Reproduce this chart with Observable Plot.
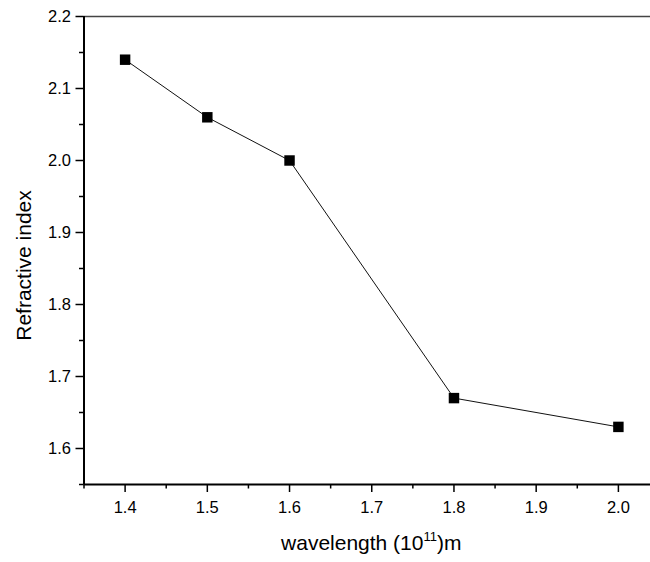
<!DOCTYPE html>
<html>
<head>
<meta charset="utf-8">
<script src="https://cdn.jsdelivr.net/npm/d3@7"></script>
<script src="https://cdn.jsdelivr.net/npm/@observablehq/plot@0.6"></script>
<style>
  html, body { margin: 0; padding: 0; background: #fff; }
  #chart svg { display: block; }
</style>
</head>
<body>
<div id="chart"></div>
<script>
// Refractive index measured at each wavelength
const wavelength = [1.4, 1.5, 1.6, 1.8, 2.0];
const refractiveIndex = [2.14, 2.06, 2.00, 1.67, 1.63];

// Axis ticks
const xMajorTicks = [1.4, 1.5, 1.6, 1.7, 1.8, 1.9, 2.0];
const xMinorTicks = [1.35, 1.45, 1.55, 1.65, 1.75, 1.85, 1.95, 2.05];
const yMajorTicks = [1.6, 1.7, 1.8, 1.9, 2.0, 2.1, 2.2];
const yMinorTicks = [1.55, 1.65, 1.75, 1.85, 1.95, 2.05, 2.15];

// Axis titles (the x title carries a superscript exponent)
const xTitleParts = ["wavelength (10", "11", ")m"];
const yTitle = "Refractive index";

const points = wavelength.map((w, i) => ({w, n: refractiveIndex[i]}));

const font = "'Liberation Sans', Arial, Helvetica, sans-serif";

const chart = Plot.plot({
  width: 650,
  height: 562,
  marginTop: 16,
  marginBottom: 78,
  marginLeft: 83.5,
  marginRight: 0,
  style: {fontFamily: font, fontSize: "16.5px", color: "#000", background: "#fff", overflow: "hidden"},
  x: {domain: [1.35, 2.05], range: [83.5, 659]},
  y: {domain: [1.55, 2.2], range: [484, 16]},
  marks: [
    // minor ticks
    Plot.axisX({ticks: xMinorTicks, tickSize: 4.5, tickFormat: () => "", label: null, strokeWidth: 1.5}),
    Plot.axisY({ticks: yMinorTicks, tickSize: 4.5, tickFormat: () => "", label: null, strokeWidth: 1.5}),
    // major ticks with labels
    Plot.axisX({ticks: xMajorTicks, tickSize: 8, tickPadding: 9, tickFormat: d3.format(".1f"), label: null, strokeWidth: 1.5, fontSize: 16.5}),
    Plot.axisY({ticks: yMajorTicks, tickSize: 8, tickPadding: 5, tickFormat: d3.format(".1f"), label: null, strokeWidth: 1.5, fontSize: 16.5}),
    // frame: bold left and bottom axes, thin top border
    Plot.ruleY([2.2], {stroke: "#444", strokeWidth: 1.5}),
    Plot.ruleX([1.35], {stroke: "#000", strokeWidth: 2}),
    Plot.ruleY([1.55], {stroke: "#000", strokeWidth: 2}),
    // data
    Plot.line(points, {x: "w", y: "n", stroke: "#111", strokeWidth: 1}),
    Plot.dot(points, {x: "w", y: "n", symbol: "square", r: 5.9, fill: "#000", stroke: "none"}),
    // axis titles
    Plot.text([xTitleParts.join("")], {frameAnchor: "bottom", textAnchor: "middle", dx: 4, dy: 65, fontSize: 21, fill: "#000", className: "x-title"}),
    Plot.text([yTitle], {frameAnchor: "left", textAnchor: "middle", rotate: -90, dx: -60, dy: 15, fontSize: 21, fill: "#000"})
  ]
});

// Rebuild the x title with a raised, smaller exponent
d3.select(chart).selectAll(".x-title text").each(function () {
  const t = d3.select(this);
  t.text(null);
  t.append("tspan").text(xTitleParts[0]);
  t.append("tspan").attr("font-size", 13).attr("dy", -9).text(xTitleParts[1]);
  t.append("tspan").attr("dy", 9).text(xTitleParts[2]);
});

document.getElementById("chart").appendChild(chart);
</script>
</body>
</html>
